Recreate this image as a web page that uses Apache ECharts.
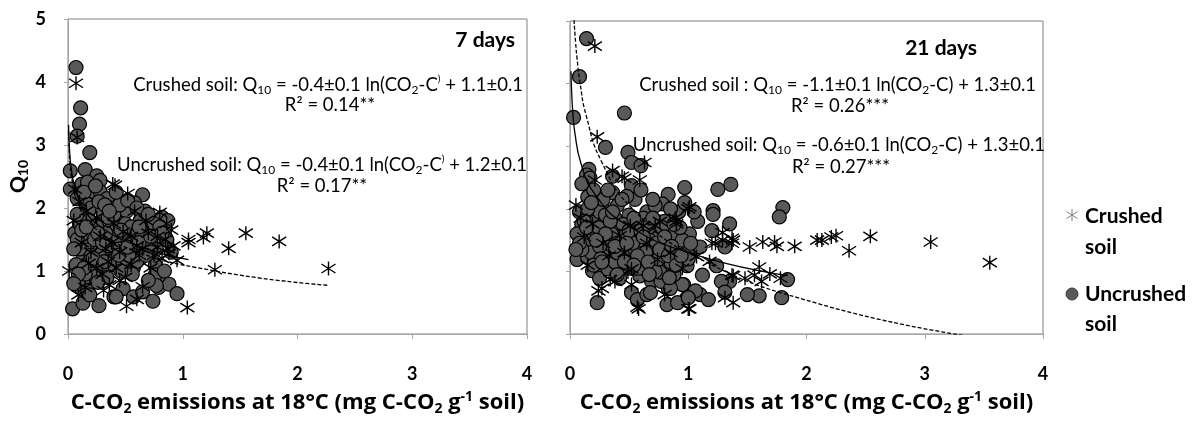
<!DOCTYPE html>
<html>
<head>
<meta charset="utf-8">
<script src="https://cdn.jsdelivr.net/npm/echarts@6/dist/echarts.min.js"></script>
<style>html,body{margin:0;padding:0;background:#fff}#c{width:1202px;height:421px}</style>
</head>
<body>
<div id="c"></div>
<script>
// ---------- DATA ----------
const xTicks = [0, 1, 2, 3, 4];
const yTicks = [0, 1, 2, 3, 4, 5];
const panelTitles = ['7 days', '21 days'];
const legendNames = ['Crushed soil', 'Uncrushed soil'];

// 7 days - crushed soil [C-CO2, Q10]
const crushed7 = [[0.07,3.98],[0.08,3.12],[0.01,1.0],[0.39,2.38],[0.41,2.36],[0.52,2.23],[0.80,1.93],[0.90,1.65],[0.92,1.40],[0.87,1.35],[1.05,1.50],[1.05,1.45],[1.18,1.53],[1.21,1.60],[1.40,1.36],[1.55,1.60],[1.84,1.47],[2.27,1.04],[1.28,1.02],[0.95,1.17],[1.04,0.42],[0.51,0.44],[0.31,0.69],[0.09,0.62],[0.15,0.74],[0.05,1.80],[0.10,2.10],[0.25,1.85],[0.35,1.15],[0.45,1.30],[0.60,1.40],[0.70,1.60],[0.45,0.85],[0.30,0.95],[0.20,1.30],[0.55,1.10],[0.65,0.75],[0.75,1.25],[0.85,1.50],[0.38,1.45],[0.42,1.05],[0.58,1.95],[0.48,1.62],[0.62,1.25],[0.72,1.05],[0.78,1.38],[0.33,1.35],[0.28,1.55],[0.16,1.95],[0.12,1.45],[0.50,0.90],[0.68,1.80],[0.82,1.20],[0.18,1.12],[0.06,2.30],[0.88,1.28],[0.40,1.75],[0.55,1.55],[0.25,1.05],[0.65,1.35],[0.78,1.55],[0.86,1.75],[0.36,0.78],[0.60,0.55]];

// 7 days - uncrushed soil
const uncrushed7 = [[0.07,4.23],[0.11,3.59],[0.10,3.33],[0.08,3.14],[0.19,2.88],[0.02,2.59],[0.02,2.30],[0.15,2.61],[0.25,2.51],[0.12,2.38],[0.65,2.21],[0.82,1.85],[0.87,1.80],[0.85,1.53],[0.04,0.40],[0.13,0.49],[0.27,0.45],[0.40,0.59],[0.48,0.72],[0.57,0.59],[0.65,0.67],[0.74,0.52],[0.79,0.74],[0.88,0.79],[0.95,0.64],[0.79,0.92],[0.76,1.09],[0.12,0.72],[0.16,0.85],[0.17,2.41],[0.28,2.44],[0.22,2.26],[0.17,2.06],[0.28,2.26],[0.34,2.15],[0.47,2.10],[0.58,2.08],[0.43,1.91],[0.51,1.95],[0.63,1.80],[0.69,1.65],[0.74,1.60],[0.65,1.40],[0.57,1.30],[0.48,1.09],[0.57,1.05],[0.37,1.30],[0.28,1.55],[0.19,1.35],[0.13,1.20],[0.10,1.02],[0.13,0.85],[0.06,1.60],[0.10,1.75],[0.17,1.91],[0.22,1.76],[0.31,1.80],[0.37,1.65],[0.45,1.76],[0.45,1.45],[0.37,1.45],[0.25,1.15],[0.18,1.45],[0.19,1.15],[0.42,1.20],[0.63,1.20],[0.77,1.35],[0.86,1.50],[0.76,0.94],[0.77,0.77],[0.42,0.59],[0.17,0.69],[0.20,2.00],[0.30,1.95],[0.35,1.85],[0.40,1.90],[0.50,1.75],[0.55,1.70],[0.60,1.60],[0.50,1.50],[0.42,1.55],[0.33,1.60],[0.25,1.70],[0.15,1.55],[0.20,1.25],[0.30,1.30],[0.35,1.40],[0.45,1.35],[0.55,1.45],[0.65,1.55],[0.70,1.45],[0.72,1.30],[0.60,1.15],[0.50,1.20],[0.40,1.10],[0.28,1.05],[0.22,0.95],[0.15,0.95],[0.10,1.35],[0.08,1.50],[0.12,1.65],[0.23,1.50],[0.38,2.00],[0.45,2.05],[0.27,2.10],[0.12,1.90],[0.08,2.15],[0.67,1.95],[0.75,1.75],[0.53,1.25],[0.30,1.45],[0.18,1.80],[0.14,2.25],[0.24,2.35],[0.32,2.05],[0.42,2.25],[0.52,2.12],[0.60,2.00],[0.70,1.90],[0.80,1.70],[0.62,1.70],[0.46,1.65],[0.36,1.95],[0.26,1.60],[0.16,1.70],[0.08,1.90],[0.05,1.35],[0.07,1.10],[0.14,1.05],[0.22,1.20],[0.32,1.15],[0.44,1.25],[0.52,1.38],[0.62,1.45],[0.72,1.55],[0.82,1.60],[0.68,1.25],[0.56,0.95],[0.46,1.00],[0.34,0.90],[0.26,0.82],[0.19,0.62],[0.09,0.95],[0.05,0.80],[0.70,0.85],[0.84,1.00],[0.90,1.30]];

// 21 days - crushed soil
const crushed21 = [[0.21,4.60],[0.23,3.15],[0.63,2.74],[0.36,2.61],[0.46,2.49],[0.59,2.46],[0.44,2.52],[0.05,2.06],[0.09,1.85],[1.00,2.00],[1.01,2.03],[0.90,1.80],[1.29,1.62],[1.37,1.45],[1.52,1.39],[1.63,1.47],[1.73,1.47],[1.75,1.40],[1.90,1.40],[2.09,1.50],[2.13,1.50],[2.21,1.55],[2.25,1.57],[2.36,1.33],[2.54,1.56],[3.05,1.47],[3.55,1.14],[1.60,1.07],[1.69,0.96],[1.56,0.94],[1.48,0.89],[1.37,0.94],[1.62,0.84],[1.78,0.89],[1.38,0.50],[1.01,0.40],[1.20,1.45],[1.38,1.50],[1.29,1.50],[0.24,0.69],[0.27,0.73],[0.57,0.43],[0.52,0.79],[0.21,2.46],[0.89,1.85],[0.72,1.73],[0.52,1.04],[0.38,0.84],[0.80,0.63],[0.58,0.40],[1.00,0.40],[1.31,0.58],[0.34,0.87],[0.49,0.99],[1.38,0.93],[1.23,1.45],[1.37,1.53],[0.90,1.76],[0.76,1.80],[0.62,1.73],[0.51,1.73],[0.42,1.57],[0.28,1.45],[0.19,1.76],[0.74,1.19],[0.85,1.30],[1.07,1.24],[1.18,1.16],[0.15,1.10],[0.33,1.25],[0.65,1.45],[0.95,1.05],[0.46,1.30],[0.12,1.55]];

// 21 days - uncrushed soil
const uncrushed21 = [[0.14,4.72],[0.08,4.11],[0.03,3.46],[0.46,3.53],[0.30,2.98],[0.49,2.90],[0.52,2.74],[0.60,2.69],[0.16,2.63],[0.14,2.54],[0.17,2.49],[0.36,2.52],[0.97,2.34],[1.25,2.31],[1.36,2.39],[1.80,2.02],[1.77,1.87],[1.84,0.87],[1.79,0.58],[1.60,0.61],[1.50,0.63],[1.35,0.84],[1.28,0.84],[1.31,0.67],[1.21,1.97],[1.21,1.91],[1.35,1.76],[1.20,1.65],[1.31,1.39],[1.24,1.09],[1.12,0.94],[1.08,1.80],[1.01,1.60],[1.07,1.39],[1.10,0.63],[1.17,0.55],[0.96,0.79],[0.99,0.58],[0.06,1.19],[0.15,1.22],[0.19,1.01],[0.24,1.09],[0.25,0.89],[0.23,0.50],[0.52,0.66],[0.57,0.55],[0.65,0.63],[0.82,0.47],[0.91,0.50],[0.95,0.79],[0.83,0.73],[0.78,0.86],[0.69,0.84],[0.41,1.04],[0.32,1.04],[0.65,1.04],[0.78,1.07],[0.83,2.23],[0.78,2.08],[0.15,2.19],[0.52,2.37],[0.36,2.26],[0.13,1.65],[0.19,1.83],[0.27,2.08],[1.06,0.69],[1.00,0.58],[0.68,0.66],[0.42,0.89],[0.59,0.93],[0.77,0.84],[0.85,0.73],[0.76,0.99],[0.99,1.09],[0.99,1.30],[1.10,1.39],[0.08,1.95],[0.10,1.75],[0.12,1.55],[0.15,1.45],[0.20,1.60],[0.22,1.80],[0.25,1.95],[0.28,2.15],[0.30,1.70],[0.32,1.50],[0.35,1.35],[0.38,1.85],[0.40,2.05],[0.42,1.65],[0.45,1.45],[0.48,1.25],[0.50,1.90],[0.52,1.60],[0.55,2.15],[0.55,1.35],[0.58,1.75],[0.60,1.50],[0.62,1.20],[0.65,1.95],[0.68,1.65],[0.70,1.40],[0.72,2.05],[0.75,1.55],[0.78,1.30],[0.80,1.80],[0.82,1.45],[0.85,1.15],[0.88,1.60],[0.90,1.35],[0.92,1.95],[0.95,1.50],[0.18,1.30],[0.28,1.25],[0.38,1.15],[0.45,1.75],[0.62,1.85],[0.85,2.00],[0.70,2.15],[0.60,2.30],[0.48,2.20],[0.32,2.30],[0.20,2.30],[0.10,2.40],[0.06,1.60],[0.10,1.35],[0.40,1.30],[0.58,1.05],[0.72,1.00],[0.88,0.95],[0.50,1.05],[0.30,1.90],[0.15,2.00],[0.25,1.40],[0.42,1.55],[0.67,1.50],[0.78,1.70],[0.93,1.70],[1.02,1.45],[1.00,1.20],[0.97,2.10],[1.05,1.95],[0.35,1.60],[0.53,1.45],[0.75,1.20],[0.64,1.30],[0.08,1.45],[0.12,1.80],[0.18,2.10],[0.24,1.70],[0.26,1.20],[0.34,1.80],[0.36,1.95],[0.40,1.45],[0.44,2.15],[0.50,1.65],[0.54,1.85],[0.57,1.25],[0.60,1.65],[0.66,1.75],[0.66,1.15],[0.70,1.85],[0.73,1.45],[0.76,1.35],[0.80,1.55],[0.83,1.25],[0.86,1.40],[0.88,1.75],[0.46,1.15],[0.30,1.60],[0.22,1.50],[0.14,1.70],[0.20,1.10],[0.38,1.40],[0.54,1.10],[0.90,1.10],[0.94,1.25],[0.48,1.45],[0.62,1.55],[0.05,1.35],[0.27,1.15],[0.40,0.95],[0.67,0.95],[0.84,0.90]];

// Fitted logarithmic trend lines: Q10 = a ln(x) + b  (coefficients as printed on the chart)
const fitA = [-0.4, -0.4, -1.1, -0.6];   // crushed7, uncrushed7, crushed21, uncrushed21
const fitB = [1.1, 1.2, 1.3, 1.3];
const fitX0 = [0.005, 0.005, 0.034, 0.008];
const fitX1 = [2.27, 1.05, 3.33, 1.84];
const fitSamples = [0, 0.002, 0.005, 0.01, 0.02, 0.04, 0.07, 0.12, 0.2, 0.3, 0.45, 0.6, 0.75, 0.9, 1];

// ---------- CHART ----------
const FONT = 'Lato, "Open Sans", sans-serif';
const NAMEFONT = '"Open Sans", Lato, sans-serif';
const STAR = 'path://M7,0L7,14M0.5,2.5L13.5,11.5M0.5,11.5L13.5,2.5';

function fitLine(i) {
  return fitSamples.map(t => {
    const x = fitX0[i] * Math.pow(fitX1[i] / fitX0[i], t);
    return [x, fitA[i] * Math.log(x) + fitB[i]];
  });
}

const axisNameRich = {
  sub: {fontSize: 14, fontWeight: 'bold', fontFamily: NAMEFONT, color: '#000', verticalAlign: 'bottom', lineHeight: 12},
  sup: {fontSize: 14, fontWeight: 'bold', fontFamily: NAMEFONT, color: '#000', verticalAlign: 'top', lineHeight: 12}
};
const xName = 'C-CO{sub|2} emissions at 18°C (mg C-CO{sub|2} g{sup|-1} soil)';

function xAxis(g) {
  return {
    gridIndex: g, type: 'value', min: xTicks[0], max: xTicks[xTicks.length - 1], interval: 1,
    axisLine: {show: true, onZero: false, lineStyle: {color: '#a6a6a6', width: 1}},
    axisTick: {show: true, length: 5, lineStyle: {color: '#a6a6a6'}},
    axisLabel: {margin: 31, fontSize: 18, fontWeight: 'bold', color: '#000', fontFamily: FONT},
    splitLine: {show: false},
    name: xName, nameLocation: 'middle', nameGap: 56,
    nameTextStyle: {fontSize: 22, fontWeight: 'bold', color: '#000', fontFamily: NAMEFONT, lineHeight: 26, rich: axisNameRich}
  };
}
function yAxis(g, labels) {
  return {
    gridIndex: g, type: 'value', min: yTicks[0], max: yTicks[yTicks.length - 1], interval: 1,
    axisLine: {show: true, onZero: false, lineStyle: {color: '#a6a6a6', width: 1}},
    axisTick: {show: true, length: 4, lineStyle: {color: '#a6a6a6'}},
    axisLabel: {show: labels, margin: 22, fontSize: 18, fontWeight: 'bold', color: '#000', fontFamily: FONT},
    splitLine: {show: false},
    name: labels ? 'Q{sub|10}' : '', nameLocation: 'middle', nameRotate: 90, nameGap: 38,
    nameTextStyle: {fontSize: 21, fontWeight: 'bold', color: '#000', fontFamily: FONT, lineHeight: 24, rich: {
      sub: {fontSize: 14, fontWeight: 'bold', fontFamily: FONT, color: '#000', verticalAlign: 'bottom', lineHeight: 12}
    }}
  };
}

function circles(name, data, g) {
  return {name, type: 'scatter', xAxisIndex: g, yAxisIndex: g, data, symbol: 'circle', symbolSize: 14,
    itemStyle: {color: '#595959', borderColor: '#000', borderWidth: 1.2, opacity: 1}, z: 2, silent: true};
}
function stars(name, data, g) {
  return {name, type: 'scatter', xAxisIndex: g, yAxisIndex: g, data, symbol: STAR, symbolSize: 14,
    itemStyle: {color: 'rgba(0,0,0,0)', borderColor: '#000', borderWidth: 1.4, opacity: 1}, z: 3, silent: true};
}
function trend(i, g, dashed) {
  return {type: 'line', xAxisIndex: g, yAxisIndex: g, data: fitLine(i), showSymbol: false, symbol: 'none',
    smooth: true, clip: true, silent: true, z: 4,
    lineStyle: {color: '#000', width: 1.3, type: dashed ? [4, 2] : 'solid'}};
}

const eqRich = {
  s: {fontSize: 12, fontFamily: FONT, fill: '#000', verticalAlign: 'bottom', lineHeight: 13},
  p: {fontSize: 10, fontFamily: FONT, fill: '#000', verticalAlign: 'top', lineHeight: 13}
};
function label(x, y, text, align, bold, size) {
  return {type: 'text', x, y, silent: true, style: {
    text, align, verticalAlign: 'middle', fill: '#000', fontFamily: FONT,
    fontSize: size || 18.5, fontWeight: bold ? 'bold' : 'normal', lineHeight: 22, rich: eqRich}};
}

const option = {
  animation: false,
  backgroundColor: '#fff',
  grid: [
    {left: 68, top: 19, width: 459, height: 330, show: true, borderColor: '#808080', borderWidth: 1, containLabel: false},
    {left: 570, top: 21, width: 473, height: 327, show: true, borderColor: '#808080', borderWidth: 1, containLabel: false}
  ],
  xAxis: [xAxis(0), xAxis(1)],
  yAxis: [yAxis(0, true), yAxis(1, false)],
  series: [
    circles(legendNames[1], uncrushed7, 0),
    stars(legendNames[0], crushed7, 0),
    trend(0, 0, true), trend(1, 0, false),
    circles(legendNames[1], uncrushed21, 1),
    stars(legendNames[0], crushed21, 1),
    trend(2, 1, true), trend(3, 1, false)
  ],
  graphic: [
    label(515, 40, panelTitles[0], 'right', true, 21),
    label(523, 85, 'Crushed soil: Q{s|10} = -0.4±0.1 ln(CO{s|2}-C{p|)} + 1.1±0.1', 'right'),
    label(330, 105, 'R² = 0.14**', 'center'),
    label(527, 165, 'Uncrushed soil: Q{s|10} = -0.4±0.1 ln(CO{s|2}-C{p|)} + 1.2±0.1', 'right'),
    label(322, 186, 'R² = 0.17**', 'center'),
    label(977, 48, panelTitles[1], 'right', true, 21),
    label(1036, 85, 'Crushed soil : Q{s|10} = -1.1±0.1 ln(CO{s|2}-C) + 1.3±0.1', 'right'),
    label(840, 106, 'R² = 0.26***', 'center'),
    label(1045, 145, 'Uncrushed soil: Q{s|10} = -0.6±0.1 ln(CO{s|2}-C) + 1.3±0.1', 'right'),
    label(841, 167, 'R² = 0.27***', 'center'),
    // legend
    {type: 'line', silent: true, shape: {x1: 1072, y1: 209, x2: 1072, y2: 221}, style: {stroke: '#7f7f7f', lineWidth: 1}},
    {type: 'line', silent: true, shape: {x1: 1066.5, y1: 211.5, x2: 1077.5, y2: 218.5}, style: {stroke: '#7f7f7f', lineWidth: 1}},
    {type: 'line', silent: true, shape: {x1: 1066.5, y1: 218.5, x2: 1077.5, y2: 211.5}, style: {stroke: '#7f7f7f', lineWidth: 1}},
    {type: 'circle', silent: true, shape: {cx: 1072, cy: 294, r: 6}, style: {fill: '#595959', stroke: '#3a3a3a', lineWidth: 1}},
    label(1085, 216, 'Crushed', 'left', true, 21),
    label(1085, 247, 'soil', 'left', true, 21),
    label(1085, 294, 'Uncrushed', 'left', true, 21),
    label(1085, 324, 'soil', 'left', true, 21)
  ]
};

const chart = echarts.init(document.getElementById('c'), null, {renderer: 'canvas'});
chart.setOption(option);
</script>
</body>
</html>
